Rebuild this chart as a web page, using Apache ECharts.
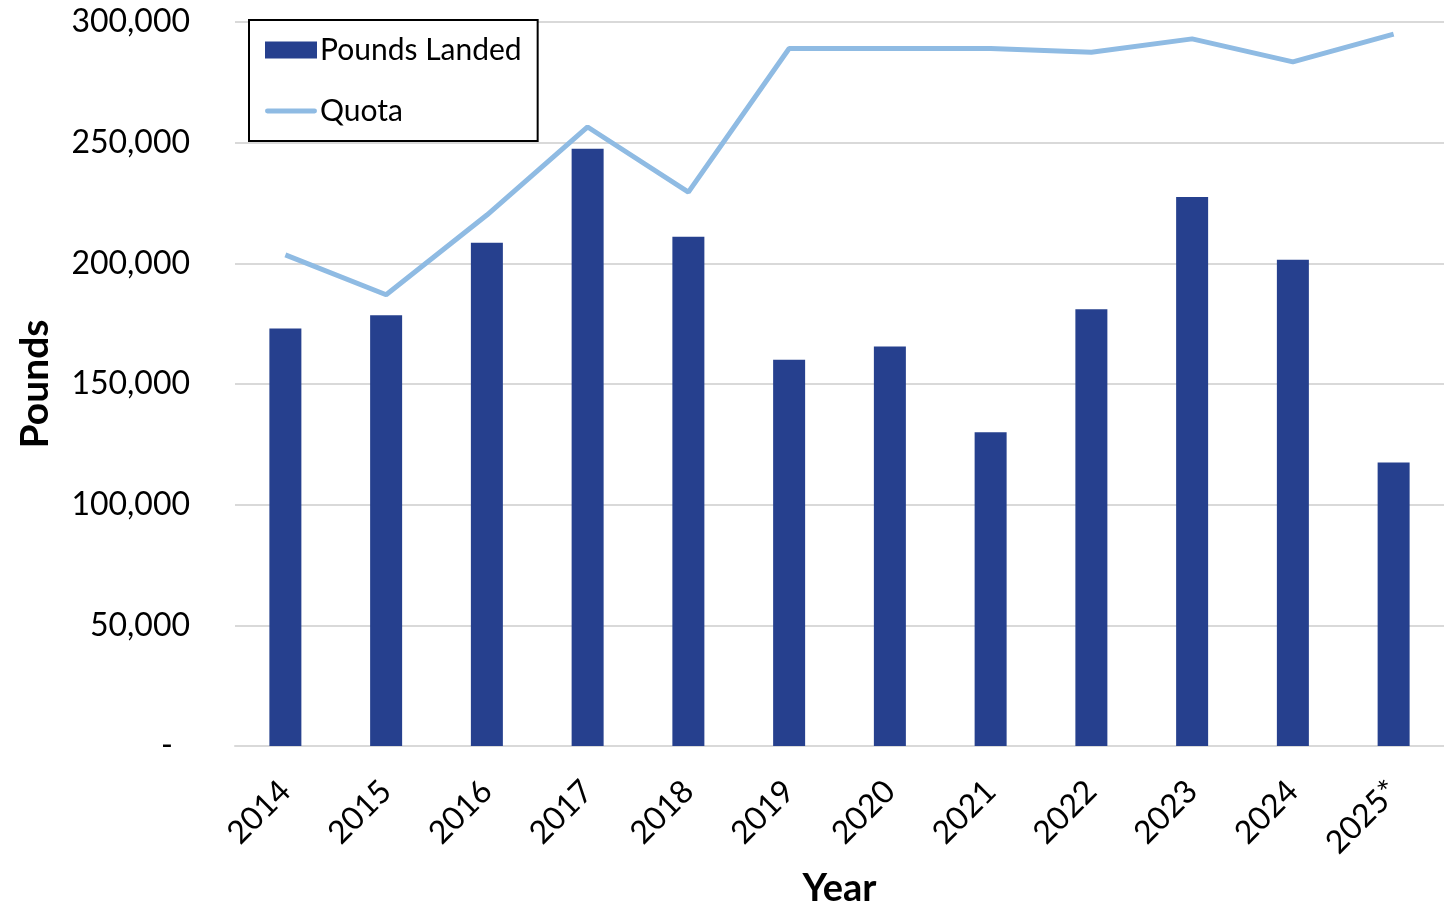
<!DOCTYPE html>
<html>
<head>
<meta charset="utf-8">
<script src="https://cdn.jsdelivr.net/npm/echarts@6/dist/echarts.min.js"></script>
<style>html,body{margin:0;padding:0;background:#fff;overflow:hidden;}#c{width:1444px;height:905px;}</style>
</head>
<body>
<div id="c"></div>
<script>
const years = ['2014','2015','2016','2017','2018','2019','2020','2021','2022','2023','2024','2025*'];
const poundsLanded = [173000,178500,208500,247500,211000,160000,165500,130000,181000,227500,201500,117500];
const quota = [203500,187000,220000,256500,229500,289000,289000,289000,287500,293000,283500,295000];
const yTicks = [0,50000,100000,150000,200000,250000,300000];

const font = 'Lato, "Open Sans", sans-serif';
const chart = echarts.init(document.getElementById('c'), null, {renderer:'canvas'});
chart.setOption({
  animation:false,
  backgroundColor:'#fff',
  textStyle:{fontFamily:font},
  grid:{left:235,right:0,top:22,bottom:159,containLabel:false,outerBoundsMode:'none'},
  legend:{
    left:249, top:20, orient:'vertical',
    borderColor:'#000', borderWidth:2, backgroundColor:'#fff',
    padding:[15,16,15,16], itemGap:31, itemWidth:52, itemHeight:17,
    symbolKeepAspect:true,
    textStyle:{fontFamily:font,fontSize:30,color:'#000',padding:[0,0,0,-2]},
    data:[{name:'Pounds Landed',icon:'rect'},
          {name:'Quota',icon:'path://M2,0L50,0A2.5,2.5,0,0,1,50,5L2,5A2.5,2.5,0,0,1,2,0Z'}]
  },
  xAxis:{
    type:'category', data:years,
    axisLine:{lineStyle:{color:'#d9d9d9',width:2}},
    axisTick:{show:false},
    axisLabel:{rotate:45,fontSize:32,color:'#000',margin:40,fontFamily:font,interval:0},
    name:'Year', nameLocation:'middle', nameGap:124,
    nameTextStyle:{fontSize:38,fontWeight:'bold',color:'#000',fontFamily:font}
  },
  yAxis:{
    type:'value', min:yTicks[0], max:yTicks[yTicks.length-1], interval:50000,
    axisLine:{show:false}, axisTick:{show:false},
    splitLine:{lineStyle:{color:'#d9d9d9',width:2}},
    axisLabel:{fontSize:32,color:'#000',margin:45,fontFamily:font,
      formatter:function(v){return v===0?'{z|-}':v.toLocaleString('en-US');},
      rich:{z:{fontSize:32,color:'#000',padding:[0,17,0,0],fontFamily:font}}},
    name:'Pounds', nameLocation:'middle', nameGap:180, nameRotate:90,
    nameTextStyle:{fontSize:39,fontWeight:'bold',color:'#000',fontFamily:font}
  },
  series:[
    {name:'Pounds Landed',type:'bar',data:poundsLanded,barWidth:32,itemStyle:{color:'#26408e'}},
    {name:'Quota',type:'line',data:quota,showSymbol:false,symbol:'none',
     lineStyle:{color:'#8fbbe3',width:5},itemStyle:{color:'#8fbbe3'}}
  ]
});
</script>
</body>
</html>
